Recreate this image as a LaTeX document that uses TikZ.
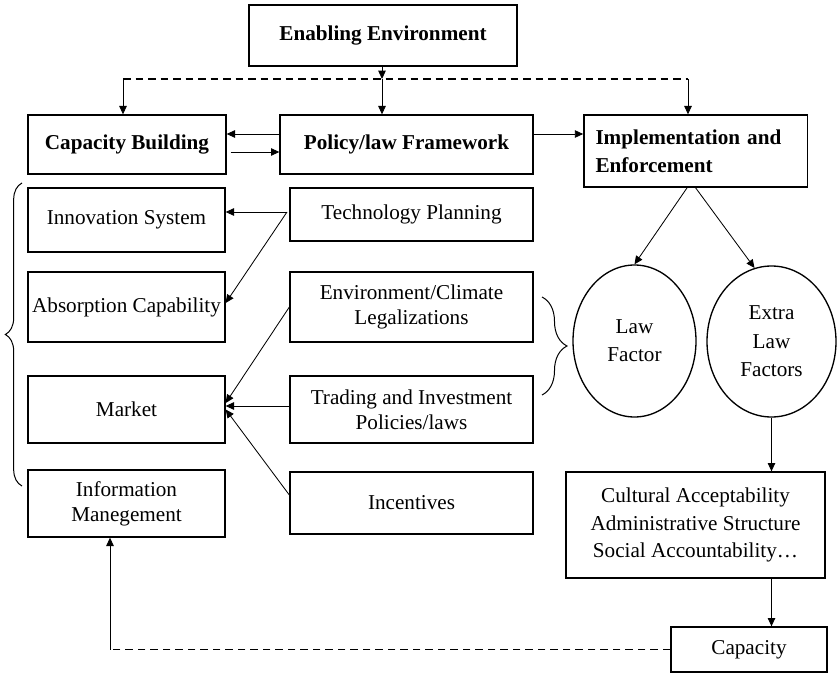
\documentclass[tikz,border=0pt]{standalone}
\usepackage{fontspec}
\setmainfont{Liberation Serif}
\usepackage{tikz}
\usetikzlibrary{positioning}
\usetikzlibrary{shapes.geometric}
\usetikzlibrary{arrows.meta}
\usetikzlibrary{decorations.pathreplacing}

\begin{document}
\begin{tikzpicture}[x=0.6pt, y=-0.6pt,
		font=\fontsize{12.7}{15}\selectfont,
		box/.style={draw, line width=0.8pt, rectangle, align=center, inner xsep=1pt, inner ysep=0pt},
		head/.style={box, font=\fontsize{12.7}{15}\selectfont\bfseries},
		oval/.style={draw, line width=0.8pt, ellipse, align=center, inner sep=0pt, font=\fontsize{12.7}{17}\selectfont},
		arr/.style={line width=0.5pt, -{Triangle[length=5pt, width=4.5pt]}},
		dashline/.style={line width=0.7pt, dash pattern=on 4.5pt off 3pt},
		curly/.style={line width=0.6pt, decorate, decoration={brace, amplitude=#1}}]
				\useasboundingbox (0,0) rectangle (837,675);

				\node[head, minimum width=160.8pt, minimum height=36.6pt] (EE) at (383,35.5) {Enabling Environment};
				\node[head, minimum width=118.8pt, minimum height=35.4pt] (CB) at (127,144.5) {Capacity Building};
				\node[head, minimum width=151.8pt, minimum height=35.4pt] (PF) at (406.5,144.5) {Policy/law Framework};
				\node[head, minimum width=133.8pt, minimum height=43.2pt, text width=120pt, inner xsep=7pt, align=left, font=\fontsize{12.7}{17}\selectfont\bfseries] (IE) at (695.5,151) {Implementation and\\Enforcement};

				\node[box, minimum width=118.2pt, minimum height=38.4pt] (IS) at (126.5,220) {Innovation System};
				\node[box, minimum width=118.2pt, minimum height=42pt] (AC) at (126.5,307) {Absorption Capability};
				\node[box, minimum width=118.2pt, minimum height=40.2pt] (M) at (126.5,409.5) {Market};
				\node[box, minimum width=118.2pt, minimum height=40.2pt] (IM) at (126.5,503.5) {Information\\Manegement};

				\node[box, minimum width=145.8pt, minimum height=31.8pt] (TP) at (411.5,214.5) {Technology Planning};
				\node[box, minimum width=145.8pt, minimum height=42pt] (EC) at (411.5,307) {Environment/Climate\\Legalizations};
				\node[box, minimum width=145.8pt, minimum height=40.2pt] (TI) at (411.5,409.5) {Trading and Investment\\Policies/laws};
				\node[box, minimum width=145.8pt, minimum height=37.2pt] (I) at (411.5,503) {Incentives};

				\node[oval, minimum width=73.8pt, minimum height=91.2pt] (LF) at (634.5,341) {Law\\Factor};
				\node[oval, minimum width=77.4pt, minimum height=90.6pt] (ELF) at (771.5,341.5) {Extra\\Law\\Factors};
				\node[box, minimum width=155.4pt, minimum height=63.6pt, font=\fontsize{12.7}{16.5}\selectfont] (CA) at (695.5,525) {Cultural Acceptability\\Administrative Structure\\Social Accountability\ldots};
				\node[box, minimum width=93.6pt, minimum height=27pt] (C) at (749,649.5) {Capacity};

				\coordinate (D) at (382,79);
				\coordinate (DL) at (123,79);
				\coordinate (DR) at (688,79);
				\draw[arr] (EE.south -| D) -- (D);
				\draw[dashline] (DL) -- (DR);
				\draw[arr] (DL) -- (DL |- CB.north);
				\draw[arr] (D) -- (D |- PF.north);
				\draw[arr] (DR) -- (DR |- IE.north);

				\draw[arr] ([yshift=6.3pt]PF.west) -- ([yshift=6.3pt]CB.east);
				\draw[arr] ([xshift=2.4pt, yshift=-4.5pt]CB.east) -- ([yshift=-4.5pt]PF.west);
				\draw[arr] ([yshift=6.3pt]PF.east) -- ([yshift=6.3pt]PF.east -| IE.west);

				\coordinate (T) at (287,212);
				\draw[arr] (T) -- (T -| IS.east);
				\draw[arr] (T) -- ([yshift=2.4pt]AC.east);
				\draw[arr] (EC.west) -- ([yshift=3.9pt]M.east);
				\draw[arr] ([yshift=2.1pt]TI.west) -- ([yshift=2.1pt]TI.west -| M.east);
				\draw[arr] ([yshift=4.8pt]I.west) -- (M.east);

				\draw[arr] ([xshift=-5pt]IE.south) -- (LF.north);
				\draw[arr] (IE.south) -- (ELF.103);
				\draw[arr] (ELF.south) -- (ELF.south |- CA.north);
				\draw[arr] (CA.south -| ELF.south) -- (C.north -| ELF.south);

				\coordinate (B) at (110,649.5);
				\draw[dashline] (C.west) -- (B);
				\draw[arr] (B) -- (B |- IM.south);

				\draw[curly=10pt] (22,486) -- (22,183);
				\draw[curly=15pt] (542,297) -- (542,395);
			\end{tikzpicture}
\end{document}
